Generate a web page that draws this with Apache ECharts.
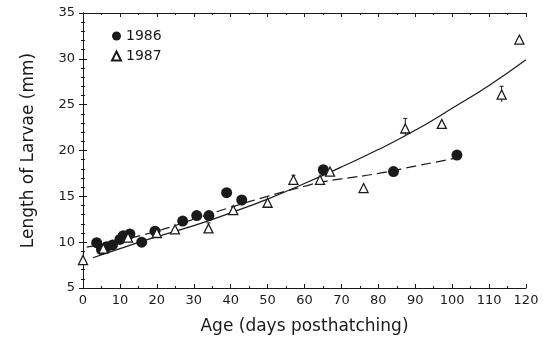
<!DOCTYPE html>
<html>
<head>
<meta charset="utf-8">
<script src="https://cdn.jsdelivr.net/npm/echarts@6/dist/echarts.min.js"></script>
<style>
  html, body { margin: 0; padding: 0; background: #fff; }
  #chart { width: 550px; height: 357px; }
</style>
</head>
<body>
<div id="chart"></div>
<script>
// Larval length (mm) against age (days posthatching)
var larvae1986 = [
  [3.7, 9.95], [5.0, 9.2], [6.4, 9.5], [8.0, 9.7], [10.0, 10.3],
  [10.9, 10.7], [12.7, 10.9], [15.9, 10.0], [19.5, 11.2], [27.0, 12.3],
  [30.8, 12.9], [34.1, 12.9], [38.9, 15.4], [43.0, 14.6], [65.1, 17.9],
  [84.1, 17.7], [101.3, 19.5]
];
var larvae1987 = [
  [0.0, 8.05], [5.5, 9.3], [12.2, 10.5], [20.0, 11.0], [24.9, 11.4],
  [34.0, 11.5], [40.7, 13.5], [50.0, 14.3], [57.0, 16.8], [64.2, 16.8],
  [66.9, 17.7], [76.0, 15.9], [87.3, 22.4], [97.2, 22.9], [113.4, 26.1],
  [118.2, 32.1]
];
// vertical bars on some 1987 means: [day, low, high]
var bars1987 = [
  [34.0, 11.3, 12.1], [40.7, 13.3, 13.9], [57.0, 16.6, 17.3],
  [87.3, 21.6, 23.5], [113.4, 25.3, 27.0]
];
// fitted growth curves
var fit1987 = [
  [2.7, 8.3], [10, 9.3], [20, 10.6], [30, 11.8], [40, 13.2], [50, 14.7],
  [60, 16.4], [70, 18.2], [80, 20.1], [90, 22.2], [100, 24.6], [110, 27.1],
  [120, 29.9]
];
var fit1986 = [
  [1, 9.45], [10, 10.2], [20, 11.2], [30, 12.5], [40, 13.8], [50, 15.0],
  [60, 16.1], [65, 16.6], [70, 16.9], [80, 17.5], [90, 18.3], [101.5, 19.2]
];
var xTicks = { min: 0, max: 120, step: 10 };
var yTicks = { min: 5, max: 35, step: 5 };

var ink = '#1a1a1a';
var font = 'DejaVu Sans';

var chart = echarts.init(document.getElementById('chart'));

function frameAxis(pos, isX, labelled) {
  var t = isX ? xTicks : yTicks;
  return {
    type: 'value',
    position: pos,
    min: t.min, max: t.max, interval: t.step,
    axisLine: { show: true, lineStyle: { color: ink, width: 1 } },
    axisTick: { show: true, inside: true, length: 4, lineStyle: { color: ink } },
    minorTick: { show: true, splitNumber: isX ? 2 : 5, length: 2, lineStyle: { color: ink } },
    splitLine: { show: false },
    axisLabel: {
      show: labelled, color: ink, fontFamily: font, fontSize: 13,
      margin: isX ? 6 : 8
    }
  };
}

var xMain = frameAxis('bottom', true, true);
xMain.name = 'Age (days posthatching)';
xMain.nameLocation = 'middle';
xMain.nameGap = 30;
xMain.nameTextStyle = { color: ink, fontFamily: font, fontSize: 17 };

var yMain = frameAxis('left', false, true);
yMain.name = 'Length of Larvae (mm)';
yMain.nameLocation = 'middle';
yMain.nameGap = 46;
yMain.nameTextStyle = { color: ink, fontFamily: font, fontSize: 17 };

chart.setOption({
  animation: false,
  backgroundColor: '#fff',
  grid: { left: 83, right: 24, top: 13, bottom: 69 },
  legend: {
    orient: 'vertical', left: 106, top: 24, itemGap: 6,
    itemWidth: 9, itemHeight: 9,
    textStyle: { color: ink, fontFamily: font, fontSize: 14 },
    data: ['1986', '1987']
  },
  xAxis: [xMain, frameAxis('top', true, false)],
  yAxis: [yMain, frameAxis('right', false, false)],
  series: [
    {
      name: 'fit 1987', type: 'line', data: fit1987, smooth: true,
      showSymbol: false, lineStyle: { color: ink, width: 1.2 }, z: 2
    },
    {
      name: 'fit 1986', type: 'line', data: fit1986, smooth: true,
      showSymbol: false, lineStyle: { color: ink, width: 1.2, type: [10, 5] }, z: 2
    },
    {
      name: 'bars', type: 'custom', data: bars1987, z: 3,
      renderItem: function (params, api) {
        var lo = api.coord([api.value(0), api.value(1)]);
        var hi = api.coord([api.value(0), api.value(2)]);
        return {
          type: 'group',
          children: [
            { type: 'line', shape: { x1: lo[0], y1: lo[1], x2: hi[0], y2: hi[1] },
              style: { stroke: ink, lineWidth: 1 } },
            { type: 'line', shape: { x1: hi[0] - 2, y1: hi[1], x2: hi[0] + 2, y2: hi[1] },
              style: { stroke: ink, lineWidth: 1 } }
          ]
        };
      }
    },
    {
      name: '1986', type: 'scatter', data: larvae1986, symbol: 'circle', symbolSize: 11,
      itemStyle: { color: ink, opacity: 1 }, z: 5
    },
    {
      name: '1987', type: 'scatter', data: larvae1987, symbol: 'triangle', symbolSize: 9,
      itemStyle: { color: '#fff', borderColor: ink, borderWidth: 1.3, opacity: 1 }, z: 6
    }
  ]
});
</script>
</body>
</html>
